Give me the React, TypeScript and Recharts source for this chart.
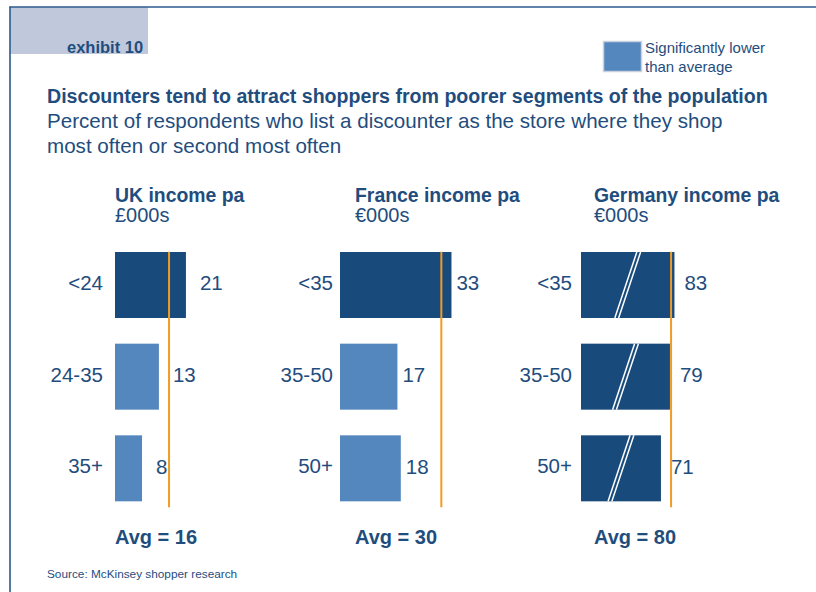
import React from 'react';
import { BarChart, Bar, XAxis, YAxis, Cell, LabelList, ReferenceLine } from 'recharts';

const ukBands = ['<24', '24-35', '35+'];
const ukValues = [21, 13, 8];
const ukLower = [false, true, true];
const ukAvg = 16;

const frBands = ['<35', '35-50', '50+'];
const frValues = [33, 17, 18];
const frLower = [false, true, true];
const frAvg = 30;

const deBands = ['<35', '35-50', '50+'];
const deValues = [83, 79, 71];
const deLower = [false, false, false];
const deAvg = 80;

const DARK = '#184a7c';
const LIGHT = '#5587bf';
const ORANGE = '#f29a22';
const TEXT = '#1f4d7e';
const FONT = "'Liberation Sans', Arial, sans-serif";

const AXIS_W = 95;
const PLOT_W = 152;
const CHART_TOP = 239;
const CHART_H = 275;
const BAR_H = 66;
// space above/below each bar inside its band
const BAND_GAP = (CHART_H / 3 - BAR_H) / 2;

interface PanelProps {
  plotX: number;
  bands: string[];
  values: number[];
  lower: boolean[];
  avg: number;
  domainMax: number;
  tickGap: number;
  labelGap: number;
  broken?: boolean;
}

function BarShape(props: any) {
  const { x, y, width, height, fill, broken } = props;
  const cx = x + width / 2;
  return (
    <g>
      <rect x={x} y={y} width={width} height={height} fill={fill} />
      {broken && [-1.9, 1.9].map((d) => (
        <line key={d} x1={cx - 11 + d} y1={y + height} x2={cx + 11 + d} y2={y}
          stroke="#fff" strokeWidth={1.5} />
      ))}
    </g>
  );
}

function Panel({ plotX, bands, values, lower, avg, domainMax, tickGap, labelGap, broken }: PanelProps) {
  const data = bands.map((b, i) => ({ band: b, value: values[i], lower: lower[i] }));
  return (
    <div style={{ position: 'absolute', left: plotX - AXIS_W, top: CHART_TOP }}>
      <BarChart
        layout="vertical"
        width={AXIS_W + PLOT_W + 40}
        height={CHART_H}
        data={data}
        margin={{ top: 0, right: 40, bottom: 0, left: 0 }}
        style={{ overflow: 'visible' }}
      >
        <XAxis type="number" domain={[0, domainMax]} hide />
        <YAxis
          type="category"
          dataKey="band"
          width={AXIS_W}
          axisLine={false}
          tickLine={false}
          tickSize={0}
          tickMargin={tickGap}
          tick={{ fill: TEXT, fontSize: 20.5, fontFamily: FONT, dy: -2 }}
        />
        <Bar
          dataKey="value"
          barSize={BAR_H}
          isAnimationActive={false}
          shape={(p: any) => <BarShape {...p} broken={broken} />}
        >
          {data.map((d) => (
            <Cell key={d.band} fill={d.lower ? LIGHT : DARK} />
          ))}
          <LabelList dataKey="value" position="right" offset={labelGap}
            fill={TEXT} fontSize={20.5} fontFamily={FONT} dy={-2} />
        </Bar>
        <ReferenceLine
          x={avg}
          stroke={ORANGE}
          strokeWidth={2}
          shape={(p: any) => (
            <line x1={p.x1} x2={p.x2}
              y1={Math.min(p.y1, p.y2) + BAND_GAP}
              y2={Math.max(p.y1, p.y2) - BAND_GAP + 6}
              stroke={ORANGE} strokeWidth={2} />
          )}
        />
      </BarChart>
    </div>
  );
}

export default function App() {
  return (
    <div style={{ position: 'absolute', left: 0, top: 0, width: 816, height: 592, background: '#fff', fontFamily: FONT }}>
      <svg width={816} height={592} style={{ position: 'absolute', left: 0, top: 0 }}>
        <rect x={10} y={7} width={138} height={47} fill="#c0c9db" />
        <line x1={9.5} y1={7} x2={816} y2={7} stroke="#2c5a8c" strokeWidth={1.6} />
        <line x1={10} y1={6.5} x2={10} y2={592} stroke="#2c5a8c" strokeWidth={1.6} />
        <text x={67} y={53} fill={TEXT} fontSize={16.5} fontWeight="bold">exhibit 10</text>

        <rect x={603.5} y={41.5} width={38} height={30} fill={LIGHT} stroke="#c9d1de" strokeWidth={1.5} />
        <text x={645} y={53} fill={TEXT} fontSize={15}>Significantly lower</text>
        <text x={645} y={72} fill={TEXT} fontSize={15}>than average</text>

        <text x={47} y={103} fill={TEXT} fontSize={19.6} fontWeight="bold">Discounters tend to attract shoppers from poorer segments of the population</text>
        <text x={47} y={128} fill={TEXT} fontSize={20.6}>Percent of respondents who list a discounter as the store where they shop</text>
        <text x={47} y={153} fill={TEXT} fontSize={20.6}>most often or second most often</text>

        <text x={115} y={202} fill={TEXT} fontSize={19.4} fontWeight="bold">UK income pa</text>
        <text x={115} y={222} fill={TEXT} fontSize={20}>£000s</text>
        <text x={355} y={202} fill={TEXT} fontSize={19.4} fontWeight="bold">France income pa</text>
        <text x={355} y={222} fill={TEXT} fontSize={20}>€000s</text>
        <text x={594} y={202} fill={TEXT} fontSize={19.4} fontWeight="bold">Germany income pa</text>
        <text x={594} y={222} fill={TEXT} fontSize={20}>€000s</text>

        <text x={115} y={544} fill={TEXT} fontSize={20} fontWeight="bold">Avg = {ukAvg}</text>
        <text x={355} y={544} fill={TEXT} fontSize={20} fontWeight="bold">Avg = {frAvg}</text>
        <text x={594} y={544} fill={TEXT} fontSize={20} fontWeight="bold">Avg = {deAvg}</text>

        <text x={47} y={578} fill={TEXT} fontSize={11.8}>Source: McKinsey shopper research</text>
      </svg>

      <Panel plotX={115} bands={ukBands} values={ukValues} lower={ukLower} avg={ukAvg}
        domainMax={45} tickGap={12} labelGap={14} />
      <Panel plotX={340} bands={frBands} values={frValues} lower={frLower} avg={frAvg}
        domainMax={45} tickGap={7} labelGap={5} />
      <Panel plotX={581} bands={deBands} values={deValues} lower={deLower} avg={deAvg}
        domainMax={135} tickGap={9} labelGap={10} broken />
    </div>
  );
}
